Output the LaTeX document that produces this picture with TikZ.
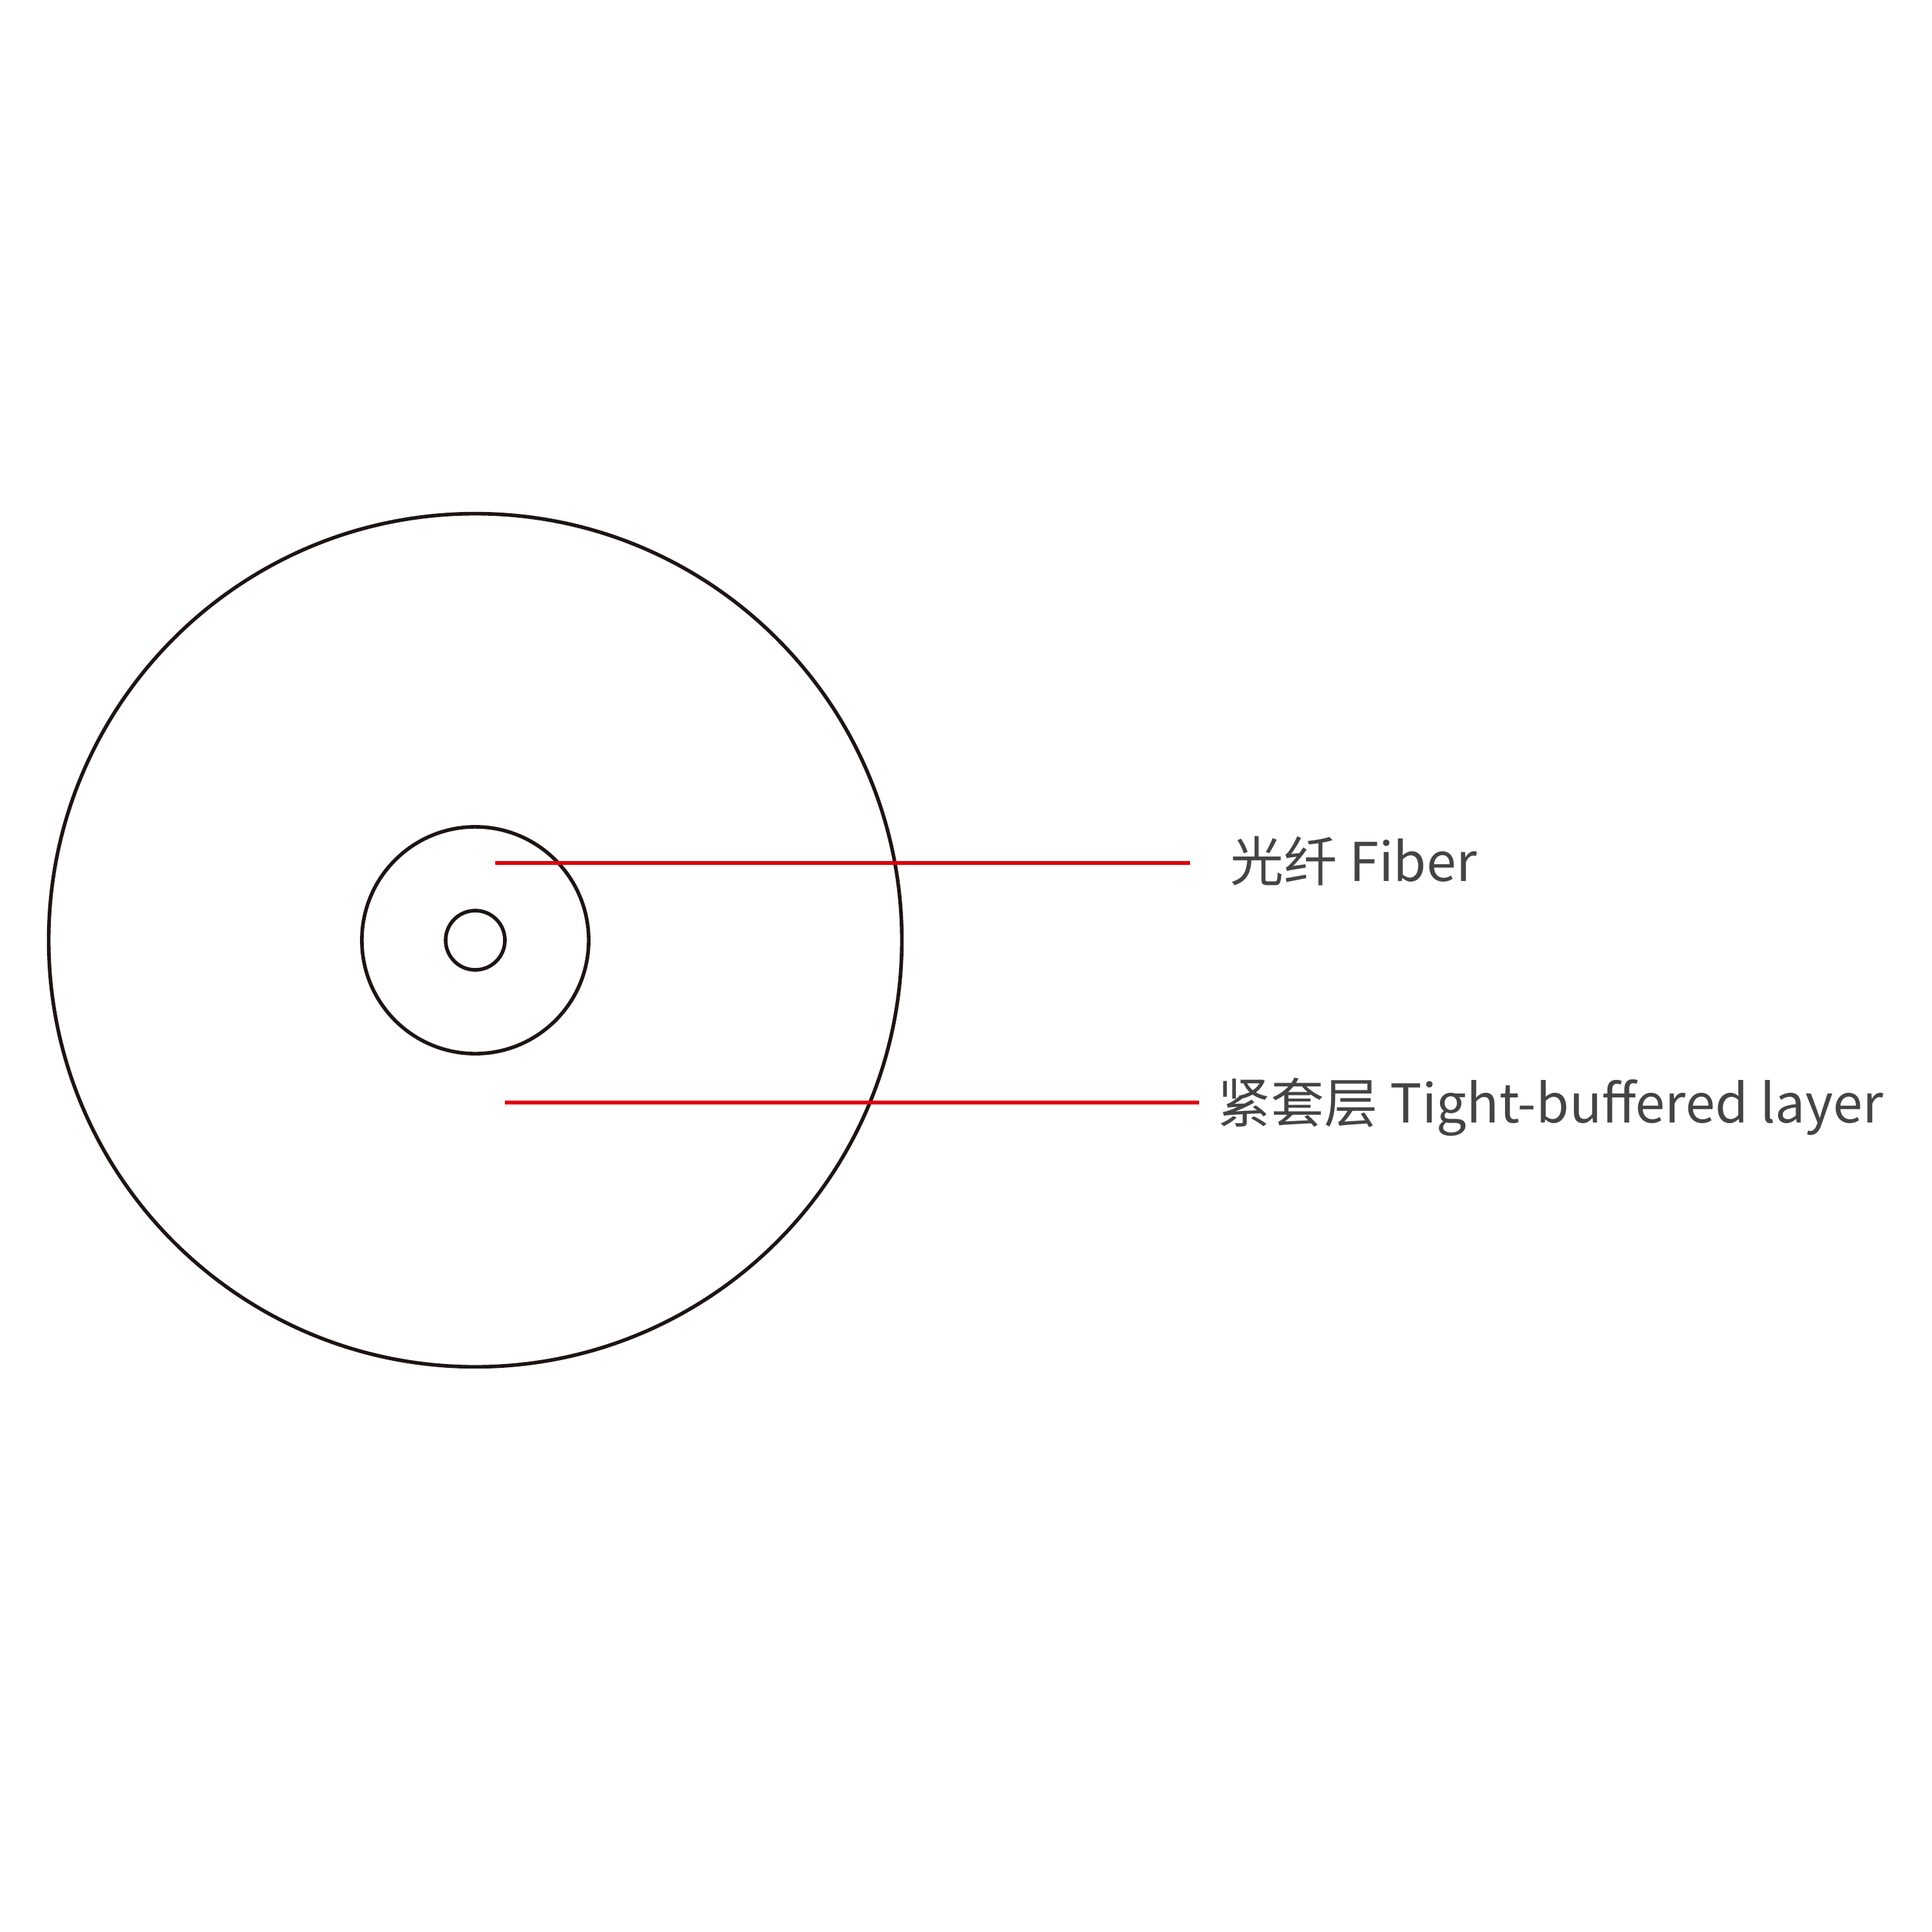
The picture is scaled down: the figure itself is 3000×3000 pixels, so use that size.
\documentclass[tikz,border=0pt]{standalone}
\usepackage{fontspec}
\setmainfont{Noto Sans CJK SC}
\definecolor{ring}{HTML}{1E1414}
\definecolor{lead}{HTML}{E0000B}
\definecolor{txt}{HTML}{444444}
\begin{document}
\begin{tikzpicture}[x=0.01cm,y=-0.01cm,
  ringline/.style={draw=ring,line width=1.6pt},
  leadline/.style={draw=lead,line width=1.7pt},
  label/.style={anchor=base west,inner sep=0pt,text=txt,font=\fontsize{23.6pt}{28pt}\selectfont}]
\useasboundingbox (0,0) rectangle (3000,3000);
\coordinate (c) at (738,1460);
\draw[ringline] (c) circle[radius=6.62cm];
\draw[ringline] (c) circle[radius=1.76cm];
\draw[ringline] (c) circle[radius=0.46cm];
\node[label] (fiber) at (1910,1368) {光纤 Fiber};
\node[label] (tight) at (1890,1743) {紧套层 Tight-buffered layer};
\coordinate (f0) at (769,1340);
\coordinate (f1) at (1848,1340);
\coordinate (t0) at (784,1712);
\coordinate (t1) at (1862,1712);
\draw[leadline] (f0) -- (f1);
\draw[leadline] (t0) -- (t1);
\end{tikzpicture}
\end{document}
